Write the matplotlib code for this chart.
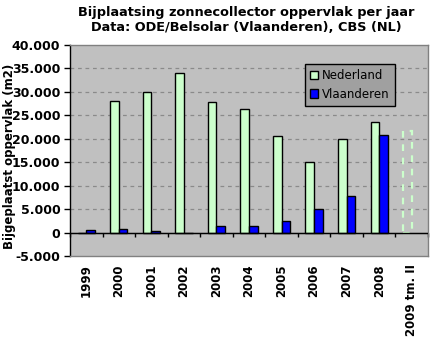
import matplotlib
matplotlib.use("Agg")
import matplotlib.pyplot as plt
from matplotlib.ticker import FuncFormatter, FixedLocator
import numpy as np

# Data
years = ['1999', '2000', '2001', '2002', '2003', '2004', '2005',
         '2006', '2007', '2008', '2009 tm. II']
nederland = [0, 28000, 30000, 34000, 27800, 26300, 20500, 15000, 19900, 23600, 21600]
vlaanderen = [450, 850, 430, -200, 1350, 1350, 2560, 5100, 7900, 20700, np.nan]
n_partial = 1  # last category is partial-year (drawn dashed, unfilled)

title = "Bijplaatsing zonnecollector oppervlak per jaar\nData: ODE/Belsolar (Vlaanderen), CBS (NL)"
ylabel = "Bijgeplaatst oppervlak (m2)"

plt.rcParams['font.family'] = ['DejaVu Sans']

fig = plt.figure(figsize=(4.41, 3.41), dpi=100)
fig.patch.set_facecolor('white')
ax = fig.add_axes([70/441, 1-256/341, 358/441, 211/341])
ax.set_facecolor('#c0c0c0')

x = np.arange(len(years))
w = 0.265
nl_col = '#ccffcc'
vl_col = '#0000ff'

full = len(years) - n_partial
b1 = ax.bar(x[:full] - w/2, nederland[:full], w, color=nl_col, edgecolor='black',
            linewidth=1.0, label='Nederland', zorder=3)
ax.bar(x[full:] - w/2, nederland[full:], w, facecolor='none', edgecolor=nl_col,
       linewidth=1.6, linestyle=(0, (3, 3)), zorder=3)
b2 = ax.bar(x + w/2, vlaanderen, w, color=vl_col, edgecolor='black',
            linewidth=1.0, label='Vlaanderen', zorder=3)

ax.set_xlim(-0.5, len(years) - 0.5)
ax.set_ylim(-5000, 40000)
ax.set_yticks(np.arange(-5000, 40001, 5000))
ax.yaxis.set_major_formatter(FuncFormatter(
    lambda v, p: ('-' if v < 0 else '') + f"{abs(int(v)):,}".replace(',', '.')))
for v in np.arange(5000, 40000, 5000):
    ax.axhline(v, color='#8a8a8a', linewidth=0.9, linestyle=(0, (3, 3)), zorder=1)
ax.axhline(0, color='black', linewidth=1.0, zorder=4)

ax.set_xticks(x)
ax.set_xticklabels(years, rotation=90, fontweight='bold', fontsize=8.5)
ax.tick_params(axis='x', length=0, pad=6)
ax.tick_params(axis='y', length=4, width=1, labelsize=9, pad=3)
for lab in ax.get_yticklabels():
    lab.set_fontweight('bold')

# category axis at zero with boundary ticks
sec = ax.secondary_xaxis(5000/45000)
sec.xaxis.set_major_locator(FixedLocator(np.arange(-0.5, len(years), 1.0)))
sec.tick_params(axis='x', direction='out', length=3, width=1, labelbottom=False)
sec.spines['bottom'].set_color('black')

for s in ['top', 'right', 'bottom']:
    ax.spines[s].set_color('#808080')
    ax.spines[s].set_linewidth(1.0)
ax.spines['left'].set_color('black')
ax.spines['left'].set_linewidth(1.0)

ax.set_ylabel(ylabel, fontweight='bold', fontsize=8.5)
ax.yaxis.set_label_coords(-0.152, 0.474)
fig.text(246/441, 1-6/341, title, ha='center', va='top', fontweight='bold',
         fontsize=9.3, linespacing=1.2)

leg = ax.legend(handles=[b1, b2], loc='upper left', bbox_to_anchor=(0.656, 0.91),
                borderaxespad=0, fancybox=False, framealpha=1, fontsize=8.5,
                handlelength=0.7, handleheight=0.7, handletextpad=0.3,
                borderpad=0.45, labelspacing=0.45)
leg.get_frame().set_facecolor('#a0a0a0')
leg.get_frame().set_edgecolor('black')
leg.get_frame().set_linewidth(1.0)

fig.savefig('out.png', dpi=100, facecolor='white')
